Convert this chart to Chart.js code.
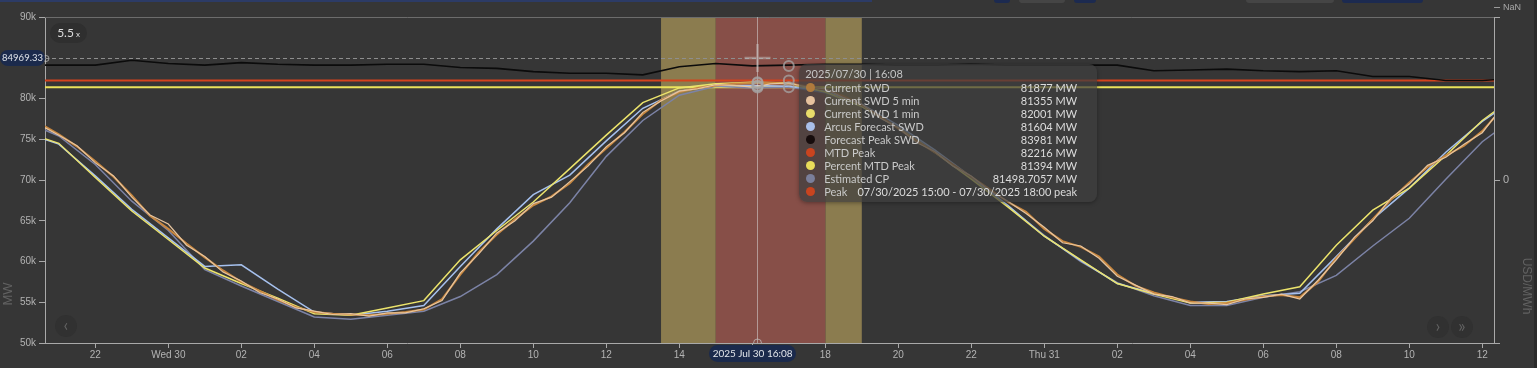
<!DOCTYPE html>
<html>
<head>
<meta charset="utf-8">
<script src="https://cdn.jsdelivr.net/npm/chart.js@4.4.1/dist/chart.umd.min.js"></script>
<style>
html,body{margin:0;padding:0;background:#363636;width:1537px;height:368px;overflow:hidden;font-family:Lato,"Noto Sans",sans-serif}
#wrap{position:relative;width:1537px;height:368px}
#c{position:absolute;left:0;top:0}
.strip{position:absolute;top:0;height:3px;border-radius:0 0 4px 4px}
#zoomBadge{position:absolute;left:50px;top:23px;width:37px;height:20px;border-radius:10px;background:#2f2f2f;color:#dedede;font-size:12px;line-height:20px;text-align:center}
#zoomBadge small{font-size:8px;margin-left:2px}
#cursorPill{position:absolute;left:0;width:45px;height:16px;border-radius:8px;background:#1b2a4c;color:#dfe3ea;font-size:9.5px;line-height:16px;text-align:center}
#datePill{position:absolute;top:345px;width:87px;height:17px;border-radius:9px;background:#1b2a4c;color:#e2e5ea;font-size:10px;line-height:17px;text-align:center}
.nav{position:absolute;width:22px;height:22px;border-radius:11px;background:#313131;color:#626262;font-size:17px;line-height:20px;text-align:center}
#tip{position:absolute;top:64px;width:298px;height:138px;border-radius:8px;background:rgba(62,62,62,0.72);box-shadow:0 1px 4px rgba(0,0,0,0.35);font-size:11px;color:#c9c9c9}
#tip .tt{position:absolute;left:6px;top:3px;line-height:14px;color:#c4c4c4}
#tip .row{position:absolute;left:0;right:0;height:13px;line-height:13px}
#tip .dot{position:absolute;left:7px;top:2px;width:9px;height:9px;border-radius:5px}
#tip .lab{position:absolute;left:25px}
#tip .val{position:absolute;right:20px;color:#dcdcdc}
#edge{position:absolute;left:1534px;top:0;width:3px;height:368px;background:#2a2a2a}
</style>
</head>
<body>
<div id="wrap">
<canvas id="c" width="1537" height="368"></canvas>
<div class="strip" style="left:0;width:872px;height:2px;border-radius:0;background:#2c3b66"></div>
<div class="strip" style="left:994px;width:16px;background:#1c2a50"></div>
<div class="strip" style="left:1019px;width:46px;background:#454545"></div>
<div class="strip" style="left:1074px;width:22px;background:#1c2a50"></div>
<div class="strip" style="left:1246px;width:88px;background:#454545"></div>
<div class="strip" style="left:1342px;width:81px;background:#1c2a50"></div>
<div id="zoomBadge">5.5<small>x</small></div>
<div id="cursorPill"></div>
<div id="tip"></div>
<div id="datePill"></div>
<div class="nav" style="left:55px;top:315px">&lsaquo;</div>
<div class="nav" style="left:1427px;top:316px">&rsaquo;</div>
<div class="nav" style="left:1451px;top:316px">&raquo;</div>
<div id="edge"></div>
</div>
<script>
// ---------- DATA ----------
// hours counted from 2025-07-29 00:00
const hours = [20,21,22,23,24,25,26,27,28,29,30,31,32,33,34,35,36,37,38,39,40,41,42,43,44,45,46,47,48,49,50,51,52,53,54,55,56,57,58,59,60,61];
const halfHours = [20.5,21,21.5,22,22.5,23,23.5,24,24.5,25,25.5,26,26.5,27,27.5,28,28.5,29,29.5,30,30.5,31,31.5,32,32.5,33,33.5,34,34.5,35,35.5,36,36.5,37,37.5,38,38.5,39,39.5,40,40.5,41,41.5,42,42.5,43,43.5,44,44.5,45,45.5,46,46.5,47,47.5,48,48.5,49,49.5,50,50.5,51,51.5,52,52.5,53,53.5,54,54.5,55,55.5,56,56.5,57,57.5,58,58.5,59,59.5,60,60.5];

const currentSWD = [76.9,75.6,74.1,72.3,70.4,68.1,65.6,64.0,62.2,60.5,58.9,57.5,56.4,55.3,54.4,53.8,53.6,53.5,53.4,53.6,53.8,54.1,55.4,58.4,61.1,63.3,65.2,66.9,68.0,69.6,71.9,73.9,75.9,78.1,79.8,80.8,81.3,81.6,81.8,81.9,81.9,81.8,81.5,81.1,80.3,79.2,77.8,76.3,74.8,73.4,71.9,70.4,68.9,67.3,66.1,64.0,62.5,61.8,60.6,58.4,57.0,56.2,55.6,55.1,54.8,54.9,55.3,55.7,55.9,55.6,57.5,60.4,62.8,65.2,67.6,69.7,71.6,73.0,74.2,76.0,78.5];
const currentSWD5min = [76.7,75.5,74.2,72.1,70.5,67.9,65.7,64.6,62.0,60.6,58.7,57.6,56.2,55.4,54.3,53.9,53.5,53.6,53.3,53.7,53.7,54.2,55.2,58.6,60.9,63.5,65.0,67.1,67.9,69.8,71.7,74.1,75.8,78.3,79.7,80.9,81.2,81.7,81.6,81.4,81.8,81.9,81.4,81.2,80.1,79.3,77.6,76.4,74.6,73.5,71.7,70.5,68.7,67.4,65.9,64.2,62.3,61.9,60.4,58.2,57.1,56.0,55.7,54.9,54.9,54.7,55.4,55.6,56.0,55.4,57.7,60.2,63.0,65.0,67.8,69.5,71.8,72.8,74.4,75.8,78.7];
const currentSWD1min = [76.0,74.5,70.3,66.2,62.7,59.2,57.3,55.5,53.6,53.4,54.3,55.2,60.2,63.8,67.3,71.4,75.5,79.5,81.3,81.8,82.0,81.9,80.8,79.0,76.4,73.4,70.1,66.7,63.1,60.2,57.3,56.0,54.9,55.0,56.0,56.9,62.0,66.3,69.0,73.0,77.3,80.6];
const arcusForecastSWD = [75.9,74.4,70.5,66.4,62.9,59.4,59.6,56.6,53.8,53.4,53.9,54.6,59.4,64.0,68.2,70.6,74.8,78.8,80.9,81.6,81.6,81.5,80.9,79.3,76.7,73.7,70.4,66.9,63.1,60.1,57.3,56.1,55.0,55.1,55.8,56.1,60.6,65.2,69.0,73.4,77.2,80.2];
const estimatedCP = [77.3,75.4,71.9,67.4,63.8,59.0,57.0,55.1,53.2,52.9,53.4,53.9,55.7,58.4,62.5,67.2,72.9,77.3,80.4,81.5,81.3,81.4,80.7,79.0,76.5,73.5,70.3,66.8,63.2,60.0,57.4,55.8,54.6,54.6,55.6,56.3,58.3,61.9,65.3,70.1,74.7,78.0];
const forecastPeakSWD = [84.1,84.1,84.1,84.7,84.3,84.1,84.4,84.2,84.1,84.1,84.2,84.2,83.8,83.7,83.3,83.1,83.1,82.9,83.9,84.3,84.0,84.1,84.2,84.2,84.1,84.1,84.2,84.1,84.1,84.1,84.1,83.4,83.5,83.6,83.4,83.3,83.4,82.7,82.7,82.2,82.2,82.5];
const mtdPeak = 82216;
const percentMtdPeak = 81394;
const cursorValue = 84969.33;
const crossHour = 40 + 8/60;          // 2025-07-30 16:08
const hourlyHoverHour = 41;           // 17:00 hourly points
const shoulderWindows = [[37.5, 39], [42, 43]];
const peakWindow = [39, 42];

const xMin = 20.622, xMax = 60.321;
const xTickHours = [22,24,26,28,30,32,34,36,38,40,42,44,46,48,50,52,54,56,58,60];
const xTickLabels = ['22','Wed 30','02','04','06','08','10','12','14','16','18','20','22','Thu 31','02','04','06','08','10','12'];
const yTickValues = [50000,55000,60000,65000,70000,75000,80000,85000,90000];
const yTickLabels = ['50k','55k','60k','65k','70k','75k','80k','85k','90k'];
const rightTickValues = [-1, 0, 1];
const rightTickLabels = ['', '0', ''];

const tipTitle = '2025/07/30 | 16:08';
const tipNames = ['Current SWD','Current SWD 5 min','Current SWD 1 min','Arcus Forecast SWD','Forecast Peak SWD','MTD Peak','Percent MTD Peak','Estimated CP','Peak'];
const tipValues = ['81877 MW','81355 MW','82001 MW','81604 MW','83981 MW','82216 MW','81394 MW','81498.7057 MW','07/30/2025 15:00 - 07/30/2025 18:00 peak'];
const tipDots = ['#b07a3c','#e6c29e','#e8dc6a','#a9bfe9','#160c0c','#c9441f','#e8dc5a','#7a7f9b','#c9441f'];
const crossValues = [81877, 81355, 82001, 81604, 81498.7057];
const hourlyHoverValues = [83981, 82216, 81394];
const crossLabel = '2025 Jul 30 16:08';

// ---------- BUILD ----------
const toPts = (xs, ys, k) => xs.map((h, i) => ({x: h, y: ys[i] * k}));
const flat = v => [{x: hours[0], y: v}, {x: hours[hours.length - 1], y: v}];

const overlay = {
  id: 'overlay',
  beforeDatasetsDraw(chart) {
    const {ctx, chartArea: a, scales: {x, y}} = chart;
    ctx.save();
    const band = (w, col) => {
      const x0 = x.getPixelForValue(w[0]), x1 = x.getPixelForValue(w[1]);
      ctx.fillStyle = col; ctx.fillRect(x0, a.top, x1 - x0, a.bottom - a.top);
    };
    shoulderWindows.forEach(w => band(w, '#8b7c4f'));
    band(peakWindow, '#874f48');
    ctx.strokeStyle = '#6c6c6c'; ctx.lineWidth = 1;
    ctx.beginPath(); ctx.moveTo(a.left, a.top + 0.5); ctx.lineTo(a.right, a.top + 0.5); ctx.stroke();
    const cy = Math.round(y.getPixelForValue(cursorValue)) + 0.5;
    ctx.setLineDash([4, 3]); ctx.strokeStyle = '#8e8e8e';
    ctx.beginPath(); ctx.moveTo(a.left, cy); ctx.lineTo(a.right, cy); ctx.stroke();
    ctx.restore();
  },
  afterDatasetsDraw(chart) {
    const {ctx, chartArea: a, scales: {x, y}} = chart;
    ctx.save();
    const cx = Math.round(x.getPixelForValue(crossHour)) + 0.5;
    ctx.strokeStyle = 'rgba(215,215,215,0.55)'; ctx.lineWidth = 1;
    ctx.beginPath(); ctx.moveTo(cx, a.top); ctx.lineTo(cx, a.bottom); ctx.stroke();
    const cy = y.getPixelForValue(cursorValue);
    ctx.strokeStyle = 'rgba(205,205,205,0.45)'; ctx.lineWidth = 2.5;
    ctx.beginPath(); ctx.moveTo(cx - 13, cy); ctx.lineTo(cx + 13, cy);
    ctx.moveTo(cx, cy - 14); ctx.lineTo(cx, cy + 14); ctx.stroke();
    ctx.strokeStyle = 'rgba(165,165,165,0.75)'; ctx.lineWidth = 2;
    crossValues.forEach(v => { ctx.beginPath(); ctx.arc(cx, y.getPixelForValue(v), 5, 0, Math.PI * 2); ctx.stroke(); });
    const hx = x.getPixelForValue(hourlyHoverHour);
    hourlyHoverValues.forEach(v => { ctx.beginPath(); ctx.arc(hx, y.getPixelForValue(v), 5, 0, Math.PI * 2); ctx.stroke(); });
    ctx.lineWidth = 1; ctx.strokeStyle = 'rgba(200,200,200,0.7)';
    ctx.beginPath(); ctx.arc(cx, a.bottom, 4, Math.PI, 0); ctx.stroke();
    ctx.beginPath(); ctx.arc(a.left + 1, Math.round(cy) + 0.5, 3, 0, Math.PI * 2); ctx.stroke();
    ctx.restore();
  },
  afterDraw(chart) {
    const {ctx, chartArea: a} = chart;
    ctx.save();
    ctx.fillStyle = '#626262'; ctx.font = '13px "Liberation Sans", Arial, sans-serif';
    ctx.textAlign = 'center'; ctx.textBaseline = 'middle';
    ctx.translate(8, 294); ctx.rotate(-Math.PI / 2); ctx.fillText('MW', 0, 0);
    ctx.setTransform(1, 0, 0, 1, 0, 0);
    ctx.font = '12px "Liberation Sans", Arial, sans-serif';
    ctx.translate(1526, 286); ctx.rotate(Math.PI / 2); ctx.fillText('USD/MWh', 0, 0);
    ctx.setTransform(1, 0, 0, 1, 0, 0);
    ctx.strokeStyle = '#9a9a9a'; ctx.lineWidth = 1;
    ctx.beginPath(); ctx.moveTo(a.right, 7.5); ctx.lineTo(a.right + 6, 7.5); ctx.stroke();
    ctx.fillStyle = '#a8a8a8'; ctx.font = '9px "Liberation Sans", Arial, sans-serif';
    ctx.textAlign = 'left'; ctx.fillText('NaN', a.right + 9, 8);
    ctx.restore();
  }
};

const axisCol = '#a9a9a9', tickCol = '#b3b3b3';
const tickFont = {family: '"Liberation Sans", Arial, sans-serif', size: 10};

const chart = new Chart(document.getElementById('c'), {
  type: 'line',
  data: {
    datasets: [
      {label: 'Current SWD 5 min', data: toPts(halfHours, currentSWD5min, 1000), borderColor: '#e7c59f', borderWidth: 1.2},
      {label: 'Current SWD', data: toPts(halfHours, currentSWD, 1000), borderColor: '#c8873f', borderWidth: 2},
      {label: 'Current SWD 1 min', data: toPts(hours, currentSWD1min, 1000), borderColor: '#ece46c', borderWidth: 1.5},
      {label: 'Arcus Forecast SWD', data: toPts(hours, arcusForecastSWD, 1000), borderColor: '#a6c1ee', borderWidth: 1.5},
      {label: 'Estimated CP', data: toPts(hours, estimatedCP, 1000), borderColor: '#7c83a6', borderWidth: 1.5},
      {label: 'Forecast Peak SWD', data: toPts(hours, forecastPeakSWD, 1000), borderColor: '#0b0b0b', borderWidth: 1.6},
      {label: 'MTD Peak', data: flat(mtdPeak), borderColor: '#d5431d', borderWidth: 2},
      {label: 'Percent MTD Peak', data: flat(percentMtdPeak), borderColor: '#ebe35a', borderWidth: 2}
    ]
  },
  options: {
    responsive: false, animation: false, devicePixelRatio: 1,
    layout: {padding: {top: 17, left: 0, right: 0, bottom: 0}},
    plugins: {legend: {display: false}, tooltip: {enabled: false}},
    elements: {point: {radius: 0}, line: {tension: 0}},
    scales: {
      x: {
        type: 'linear', position: 'bottom', min: xMin, max: xMax,
        afterFit: s => { s.height = 25; },
        afterBuildTicks: s => { s.ticks = xTickHours.map(v => ({value: v})); },
        ticks: {callback: (v, i) => xTickLabels[i], color: tickCol, font: tickFont, padding: 1, maxRotation: 0, autoSkip: false},
        grid: {display: true, drawOnChartArea: false, drawTicks: true, tickLength: 5, color: axisCol},
        border: {display: true, color: axisCol}
      },
      y: {
        position: 'left', min: 50000, max: 90000,
        afterFit: s => { s.width = 45; },
        afterBuildTicks: s => { s.ticks = yTickValues.map(v => ({value: v})); },
        ticks: {callback: (v, i) => yTickLabels[i], color: tickCol, font: tickFont, padding: 3},
        grid: {display: true, drawOnChartArea: false, drawTicks: true, tickLength: 6, color: axisCol},
        border: {display: true, color: axisCol}
      },
      y2: {
        position: 'right', min: -1, max: 1,
        afterFit: s => { s.width = 43; },
        afterBuildTicks: s => { s.ticks = rightTickValues.map(v => ({value: v})); },
        ticks: {callback: (v, i) => rightTickLabels[i], color: tickCol, font: {family: tickFont.family, size: 11}, padding: 3},
        grid: {display: true, drawOnChartArea: false, drawTicks: true, tickLength: 6, color: axisCol},
        border: {display: true, color: axisCol}
      }
    }
  },
  plugins: [overlay]
});

// ---------- HTML overlays ----------
const sx = chart.scales.x, sy = chart.scales.y;
const crossPx = sx.getPixelForValue(crossHour);
const cp = document.getElementById('cursorPill');
cp.textContent = cursorValue.toFixed(2);
cp.style.top = (sy.getPixelForValue(cursorValue) - 8) + 'px';

const dp = document.getElementById('datePill');
dp.textContent = crossLabel;
dp.style.left = (crossPx - 48) + 'px';

const tip = document.getElementById('tip');
tip.style.left = (crossPx + 42) + 'px';
let html = '<div class="tt">' + tipTitle + '</div>';
tipNames.forEach((n, i) => {
  html += '<div class="row" style="top:' + (17 + i * 13) + 'px"><span class="dot" style="background:' + tipDots[i] + '"></span><span class="lab">' + n + '</span><span class="val">' + tipValues[i] + '</span></div>';
});
tip.innerHTML = html;
</script>
</body>
</html>
